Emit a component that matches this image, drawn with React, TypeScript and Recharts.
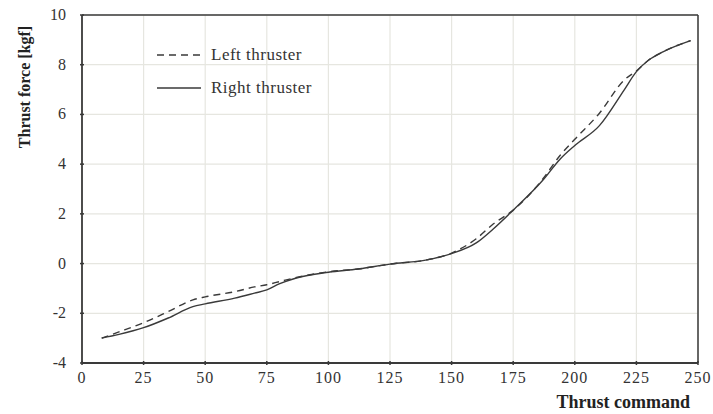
import React from 'react'
import { LineChart, Line, XAxis, YAxis, CartesianGrid, ReferenceLine } from 'recharts'

const commands = [8, 15, 25, 35, 45, 50, 62, 70, 75, 80, 87, 100, 112, 125, 140, 150, 160, 167, 175, 187, 194, 200, 210, 220, 225, 230, 236, 247]
const leftThruster = [-3, -2.75, -2.38, -1.93, -1.46, -1.34, -1.13, -0.94, -0.85, -0.73, -0.56, -0.33, -0.22, -0.02, 0.15, 0.42, 1.0, 1.6, 2.15, 3.4, 4.35, 5.0, 6.05, 7.38, 7.75, 8.19, 8.53, 8.97]
const rightThruster = [-3, -2.85, -2.58, -2.19, -1.73, -1.62, -1.39, -1.19, -1.06, -0.82, -0.58, -0.35, -0.22, -0.02, 0.15, 0.4, 0.83, 1.4, 2.15, 3.35, 4.2, 4.75, 5.55, 6.98, 7.72, 8.19, 8.53, 8.97]

const xTicks = [0, 25, 50, 75, 100, 125, 150, 175, 200, 225, 250]
const yTicks = [-4, -2, 0, 2, 4, 6, 8, 10]

const legendItems = [
  { name: 'Left thruster', dash: '7 5' },
  { name: 'Right thruster', dash: undefined },
]

const data = commands.map((c, i) => ({
  cmd: c,
  left: leftThruster[i],
  right: rightThruster[i],
}))

const FONT = '"Liberation Serif", "DejaVu Serif", serif'
const INK = '#3a3a3a'

const XTick = (props: any) => {
  const { x, y, payload } = props
  return (
    <g>
      <line x1={x} x2={x} y1={y - 12} y2={y - 16} stroke={INK} strokeWidth={1.5} />
      <text x={x} y={y + 6} textAnchor="middle" fontFamily={FONT} fontSize={16} letterSpacing={1} fill="#333">
        {payload.value}
      </text>
    </g>
  )
}

const YTick = (props: any) => {
  const { x, y, payload } = props
  return (
    <g>
      <line x1={x + 12} x2={x + 16} y1={y} y2={y} stroke={INK} strokeWidth={1.5} />
      <text x={x - 2} y={y + 5} textAnchor="end" fontFamily={FONT} fontSize={16} fill="#333">
        {payload.value}
      </text>
    </g>
  )
}

const Legend = () => (
  <div style={{ position: 'absolute', left: 157, top: 38, fontFamily: FONT, fontSize: 17, color: '#333' }}>
    {legendItems.map((item) => (
      <div key={item.name} style={{ display: 'flex', alignItems: 'center', height: 33 }}>
        <svg width={46} height={10}>
          <line x1={0} x2={44} y1={5} y2={5} stroke={INK} strokeWidth={1.4} strokeDasharray={item.dash} />
        </svg>
        <span style={{ marginLeft: 8, letterSpacing: 0.5 }}>{item.name}</span>
      </div>
    ))}
  </div>
)

export default function App() {
  return (
    <div style={{ position: 'absolute', left: 0, top: 0, width: 713, height: 414, background: '#fff' }}>
      <LineChart width={713} height={414} data={data} margin={{ top: 15, right: 15, bottom: 0, left: 0 }}>
        <CartesianGrid stroke="#e6e6e0" strokeWidth={1.2} />
        <XAxis
          dataKey="cmd"
          type="number"
          domain={[0, 250]}
          ticks={xTicks}
          interval={0}
          height={51}
          tickLine={false}
          tickSize={12}
          tick={<XTick />}
          axisLine={{ stroke: INK, strokeWidth: 1.8 }}
        />
        <YAxis
          type="number"
          domain={[-4, 10]}
          ticks={yTicks}
          interval={0}
          width={82}
          tickLine={false}
          tickSize={12}
          tick={<YTick />}
          axisLine={{ stroke: INK, strokeWidth: 1.8 }}
        />
        <ReferenceLine y={10} stroke={INK} strokeWidth={1.5} />
        <ReferenceLine x={250} stroke={INK} strokeWidth={1.5} />
        <Line type="monotone" dataKey="left" stroke={INK} strokeWidth={1.4} strokeDasharray="7 5" dot={false} isAnimationActive={false} />
        <Line type="monotone" dataKey="right" stroke={INK} strokeWidth={1.4} dot={false} isAnimationActive={false} />
      </LineChart>
      <div
        style={{
          position: 'absolute',
          left: 25,
          top: 87,
          transform: 'translate(-50%, -50%) rotate(-90deg)',
          whiteSpace: 'nowrap',
          fontFamily: FONT,
          fontWeight: 'bold',
          fontSize: 16,
          color: '#222',
        }}
      >
        Thrust force [kgf]
      </div>
      <div
        style={{
          position: 'absolute',
          right: 23,
          top: 392,
          whiteSpace: 'nowrap',
          fontFamily: FONT,
          fontWeight: 'bold',
          fontSize: 18,
          color: '#222',
        }}
      >
        Thrust command
      </div>
      <Legend />
    </div>
  )
}
